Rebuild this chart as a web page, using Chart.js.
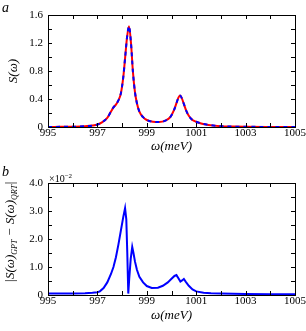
<!DOCTYPE html>
<html><head><meta charset="utf-8">
<script src="https://cdn.jsdelivr.net/npm/chart.js@4/dist/chart.umd.min.js"></script>
<style>
html,body{margin:0;padding:0;background:#fff;width:306px;height:331px;overflow:hidden;}
#wrap{position:relative;width:306px;height:331px;}
canvas{position:absolute;left:0;}
.lbl{position:absolute;font-family:"Liberation Serif","DejaVu Serif",serif;font-style:italic;color:#000;white-space:nowrap;line-height:1;}
</style></head>
<body><div id="wrap">
<canvas id="c1" width="306" height="165" style="top:0;width:306px;height:165px"></canvas>
<canvas id="c2" width="306" height="166" style="top:165px;width:306px;height:166px"></canvas>
<div class="lbl" style="left:2px;top:1px;font-size:14px">a</div>
<div class="lbl" style="left:2px;top:165px;font-size:14px">b</div>
<div class="lbl" style="left:49px;top:173px;font-size:10px;font-style:normal">×10<sup style="font-size:7px;vertical-align:4px">−2</sup></div>
<div class="lbl" id="ytb" style="font-size:13px;left:11px;top:232px;transform:translate(-50%,-50%) rotate(-90deg);">|S(ω)<sub style="font-size:8px">GPT</sub> − S(ω)<sub style="font-size:8px">QRT</sub>|</div>
</div>
<script>
// ---- data (panel a) ----
const omegaA = [995, 995.5, 996, 996.5, 996.8, 997.0, 997.2, 997.4, 997.55, 997.65, 997.75, 997.85, 997.95, 998.05, 998.12, 998.2, 998.28, 998.36, 998.44, 998.52, 998.6, 998.7, 998.85, 999.0, 999.25, 999.5, 999.75, 999.95, 1000.1, 1000.2, 1000.28, 1000.35, 1000.42, 1000.5, 1000.6, 1000.7, 1000.85, 1001.0, 1001.2, 1001.5, 1002, 1002.5, 1003, 1004, 1005];
const sGPT = [0, 0.002, 0.004, 0.01, 0.02, 0.035, 0.07, 0.13, 0.22, 0.28, 0.32, 0.38, 0.48, 0.72, 0.98, 1.28, 1.44, 1.2, 0.78, 0.5, 0.34, 0.22, 0.14, 0.1, 0.075, 0.07, 0.09, 0.14, 0.24, 0.34, 0.42, 0.45, 0.41, 0.33, 0.23, 0.16, 0.1, 0.075, 0.05, 0.03, 0.012, 0.006, 0.003, 0.001, 0];
const sQRT = [0, 0.002, 0.004, 0.01, 0.02, 0.035, 0.07, 0.13, 0.22, 0.28, 0.32, 0.38, 0.48, 0.72, 0.98, 1.28, 1.44, 1.2, 0.78, 0.5, 0.34, 0.22, 0.14, 0.1, 0.075, 0.07, 0.09, 0.14, 0.24, 0.34, 0.42, 0.45, 0.41, 0.33, 0.23, 0.16, 0.1, 0.075, 0.05, 0.03, 0.012, 0.006, 0.003, 0.001, 0];
// ---- data (panel b), values in units of 1e-2 ----
const omegaB = [995, 996, 996.5, 996.8, 997.0, 997.1, 997.25, 997.4, 997.55, 997.65, 997.75, 997.85, 997.95, 998.05, 998.12, 998.17, 998.21, 998.25, 998.29, 998.35, 998.41, 998.46, 998.52, 998.6, 998.7, 998.85, 999.0, 999.2, 999.45, 999.65, 999.85, 1000.0, 1000.12, 1000.2, 1000.28, 1000.36, 1000.43, 1000.5, 1000.58, 1000.7, 1000.85, 1001.0, 1001.3, 1001.6, 1002, 1003, 1004, 1005];
const diffB = [0.05, 0.05, 0.06, 0.08, 0.1, 0.13, 0.25, 0.45, 0.75, 1.0, 1.35, 1.8, 2.3, 2.8, 3.1, 2.7, 1.5, 0.05, 0.6, 1.3, 1.72, 1.5, 1.2, 0.9, 0.65, 0.45, 0.32, 0.25, 0.26, 0.33, 0.45, 0.58, 0.68, 0.71, 0.6, 0.48, 0.52, 0.57, 0.47, 0.33, 0.2, 0.13, 0.08, 0.06, 0.05, 0.04, 0.03, 0.03];
const xTicks = {min: 995, max: 1005, step: 1};
const yTicksA = {min: 0, max: 1.6, step: 0.2};
const yTicksB = {min: 0, max: 4.0, step: 0.5};

const pts = (xs, ys) => xs.map((x, i) => ({x, y: ys[i]}));
const SERIF = '"Liberation Serif","DejaVu Serif",serif';

const frameTicks = {
  id: 'frameTicks',
  afterDatasetsDraw(chart) {
    const {ctx, chartArea: a, scales} = chart;
    ctx.save();
    ctx.strokeStyle = '#000';
    ctx.lineWidth = 1;
    ctx.beginPath();
    const L = 4;
    scales.x.ticks.forEach(t => {
      const px = Math.round(scales.x.getPixelForValue(t.value)) + 0.5;
      ctx.moveTo(px, a.bottom); ctx.lineTo(px, a.bottom - L);
      ctx.moveTo(px, a.top); ctx.lineTo(px, a.top + L);
    });
    scales.y.ticks.forEach(t => {
      const py = Math.round(scales.y.getPixelForValue(t.value)) + 0.5;
      ctx.moveTo(a.left, py); ctx.lineTo(a.left + L, py);
      ctx.moveTo(a.right, py); ctx.lineTo(a.right - L, py);
    });
    ctx.stroke();
    ctx.strokeRect(Math.round(a.left) + 0.5, Math.round(a.top) + 0.5, Math.round(a.right - a.left), Math.round(a.bottom - a.top));
    ctx.restore();
  }
};

function makeOptions(yT, yFmt, padTop, xAxisH, xTitlePad) {
  return {
    responsive: false, animation: false,
    layout: {padding: {left: 0, right: 11, top: padTop, bottom: 0}},
    plugins: {legend: {display: false}, tooltip: {enabled: false}},
    elements: {point: {radius: 0}},
    scales: {
      x: {
        type: 'linear', min: xTicks.min, max: xTicks.max,
        grid: {display: false, drawTicks: false}, border: {display: false},
        ticks: {stepSize: xTicks.step, autoSkip: false, maxRotation: 0, padding: 0,
          color: '#000', font: {family: SERIF, size: 11},
          callback: v => (Math.round(v - xTicks.min) % 2 === 0 ? String(Math.round(v)) : '')},
        title: {display: true, text: 'ω(meV)', color: '#000',
          font: {family: SERIF, size: 13, style: 'italic'}, padding: {top: 0, bottom: xTitlePad}},
        afterFit: s => { s.height = xAxisH; }
      },
      y: {
        min: yT.min, max: yT.max,
        grid: {display: false, drawTicks: false}, border: {display: false},
        ticks: {stepSize: yT.step, autoSkip: false, padding: 5, color: '#000',
          font: {family: SERIF, size: 11}, callback: yFmt},
        afterFit: s => { s.width = 48; }
      }
    }
  };
}

const optA = makeOptions(yTicksA, v => {
  const k = Math.round(v * 10);
  if (k % 4 !== 0) return '';
  return k === 0 ? '0' : (k / 10).toFixed(1);
}, 15, 38, 10.2);
optA.scales.y.title = {display: true, text: 'S(ω)', color: '#000',
  font: {family: SERIF, size: 13, style: 'italic'}, padding: {top: 5.5, bottom: 0}};

new Chart(document.getElementById('c1'), {
  type: 'line',
  data: {datasets: [
    {label: 'QRT', data: pts(omegaA, sQRT), borderColor: '#0000ff', borderWidth: 2, borderDash: [4, 4], order: 0, cubicInterpolationMode: 'monotone'},
    {label: 'GPT', data: pts(omegaA, sGPT), borderColor: '#ff0000', borderWidth: 2, order: 1, cubicInterpolationMode: 'monotone'}
  ]},
  options: optA,
  plugins: [frameTicks]
});

const optB = makeOptions(yTicksB, v => {
  const k = Math.round(v * 2);
  if (k % 2 !== 0) return '';
  return k === 0 ? '0' : (k / 2).toFixed(1);
}, 18, 36, 7.2);

new Chart(document.getElementById('c2'), {
  type: 'line',
  data: {datasets: [
    {label: '|S(ω)GPT − S(ω)QRT|', data: pts(omegaB, diffB), borderColor: '#0000ff', borderWidth: 2}
  ]},
  options: optB,
  plugins: [frameTicks]
});
</script>
</body></html>
